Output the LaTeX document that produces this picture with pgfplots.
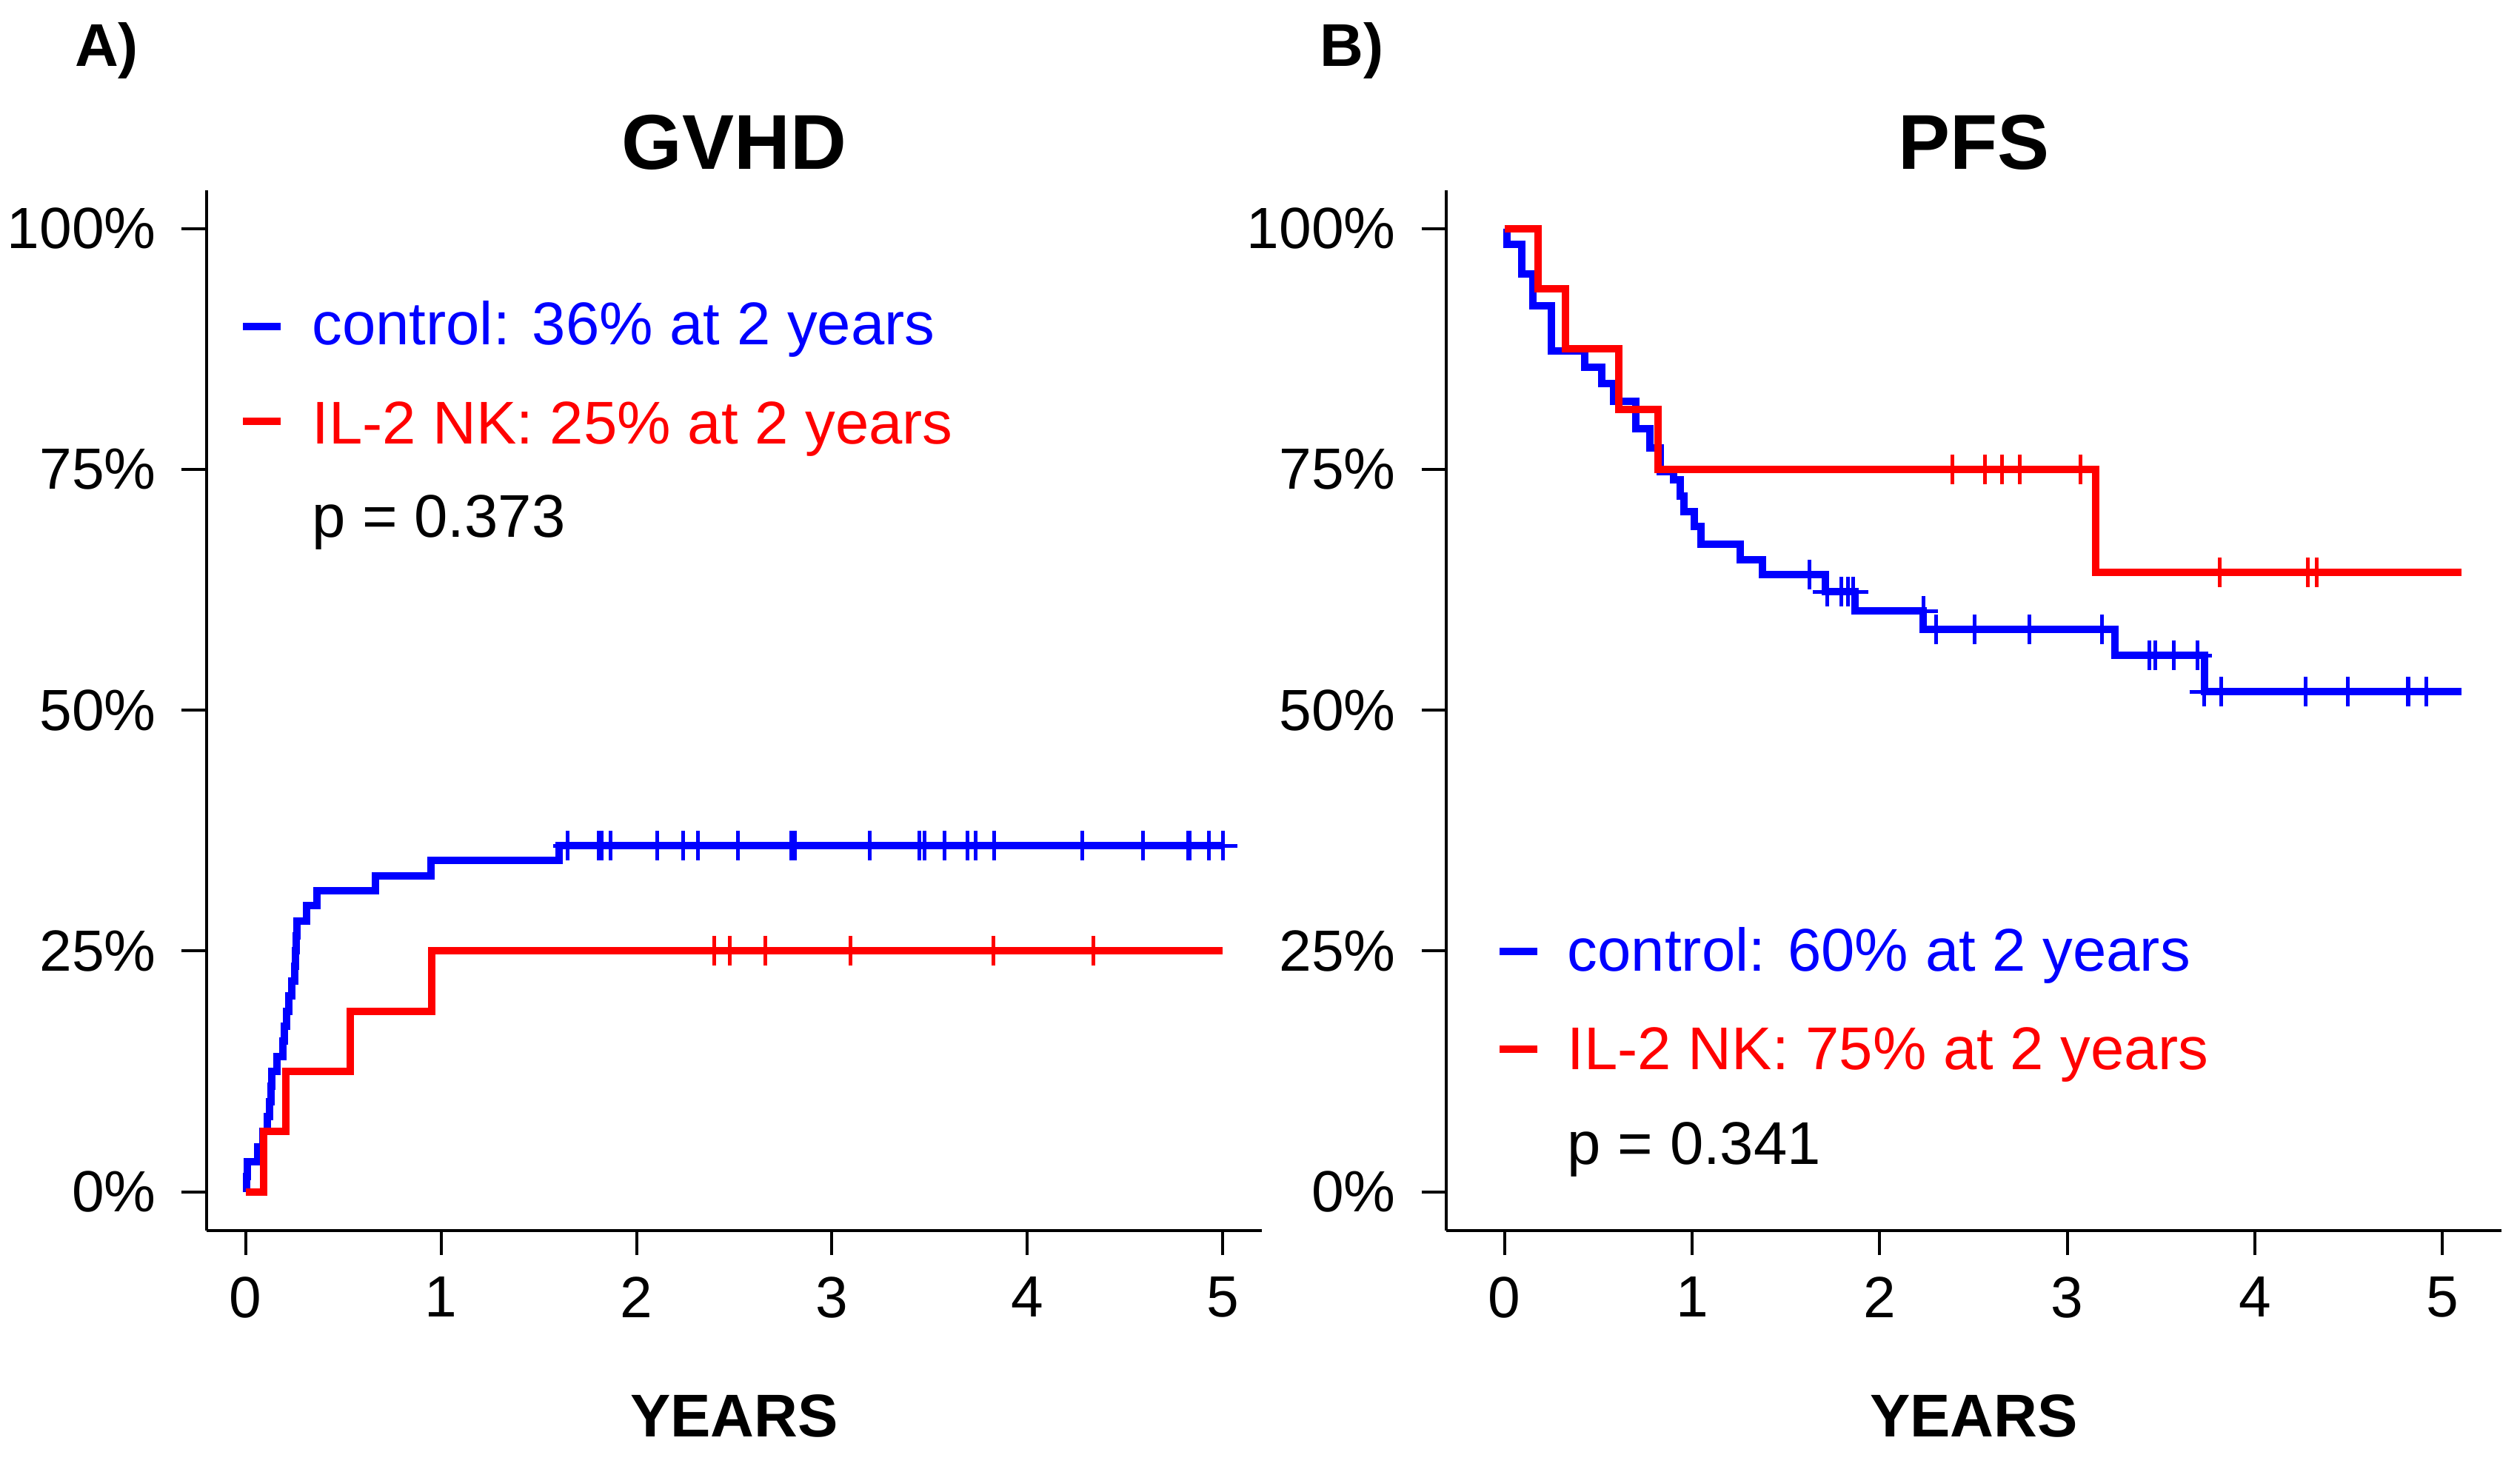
\documentclass[border=0pt]{standalone}
\usepackage{fontspec}
\setmainfont{Liberation Sans}
\usepackage{pgfplots}
\pgfplotsset{compat=1.18}

\newcommand{\txt}{\fontsize{16.3bp}{19bp}\selectfont}
\newcommand{\tck}{\fontsize{15.7bp}{19bp}\selectfont}
\newcommand{\hdr}{\bfseries\fontsize{21bp}{25bp}\selectfont}
\newcommand{\lab}{\bfseries\fontsize{16.3bp}{19bp}\selectfont}

\pgfplotsset{
  km/.style={
    scale only axis, width=285bp, height=281bp,
    ymin=-4, ymax=104,
    axis x line*=bottom, axis y line*=left,
    axis line style={line width=0.8bp},
    every tick/.style={line width=0.8bp, black},
    tick align=outside, major tick length=6.7bp,
    xtick={0,1,2,3,4,5}, ytick={0,25,50,75,100},
    yticklabels={0\%,25\%,50\%,75\%,100\%},
    /pgf/number format/assume math mode=true,
    ticklabel style={font=\tck, inner sep=0pt},
    xticklabel style={anchor=north, yshift=-5.6bp},
    yticklabel style={anchor=east, xshift=-6.8bp},
    title style={at={(0.5,1)}, anchor=base, yshift=-0.4bp, font=\hdr},
    xlabel style={at={(0.5,0)}, anchor=base, yshift=-55.8bp, font=\lab},
    xlabel={YEARS},
  },
  curve/.style={const plot, line width=2bp, mark=none},
  cens/.style={only marks, mark=+, mark size=4bp, mark options={line width=1bp}},
}

\begin{document}
\begin{tikzpicture}
\path[use as bounding box] (0,0) rectangle (680.6bp,396.8bp);

\node[anchor=base west, font=\lab, inner sep=0pt] at (20bp,378.8bp) {A)};
\node[anchor=base west, font=\lab, inner sep=0pt] at (356.3bp,378.8bp) {B)};

% A) GVHD, cumulative incidence
\begin{axis}[km, at={(55.8bp,64.46bp)}, anchor=south west,
    xmin=-0.2, xmax=5.2, title={GVHD}]
  \addplot[curve, blue] coordinates {
    (0,0) (0.003,1.56) (0.007,3.13) (0.06,4.69) (0.087,6.25) (0.11,7.81)
    (0.123,9.38) (0.13,10.94) (0.134,12.5) (0.16,14.06) (0.19,15.63)
    (0.196,17.19) (0.21,18.75) (0.22,20.31) (0.235,21.88) (0.25,23.44)
    (0.255,25.0) (0.258,26.56) (0.262,28.13) (0.31,29.69) (0.365,31.25)
    (0.665,32.81) (0.95,34.38) (1.605,35.94) (5.0,35.94)
  };
  \addplot[cens, blue] coordinates {
    (1.649,35.94) (1.805,35.94) (1.823,35.94) (1.866,35.94) (2.106,35.94)
    (2.240,35.94) (2.313,35.94) (2.520,35.94) (2.792,35.94) (2.810,35.94)
    (3.192,35.94) (3.446,35.94) (3.475,35.94) (3.577,35.94) (3.693,35.94)
    (3.736,35.94) (3.831,35.94) (4.281,35.94) (4.590,35.94) (4.822,35.94)
    (4.830,35.94) (4.928,35.94) (5.0,35.94)
  };
  \addplot[curve, red] coordinates {
    (0,0) (0.091,6.25) (0.207,12.5) (0.534,18.75) (0.951,25) (5.0,25)
  };
  \addplot[cens, red] coordinates {
    (2.397,25) (2.476,25) (2.658,25) (3.094,25) (3.827,25) (4.339,25)
  };
  \draw[blue, line width=2bp] (axis cs:-0.013,89.8) -- (axis cs:0.179,89.8);
  \draw[red, line width=2bp] (axis cs:-0.013,80.0) -- (axis cs:0.179,80.0);
  \node[anchor=base west, inner sep=0pt, font=\txt, blue] at (axis cs:0.336,87.96) {control: 36\% at 2 years};
  \node[anchor=base west, inner sep=0pt, font=\txt, red] at (axis cs:0.336,77.66) {IL-2 NK: 25\% at 2 years};
  \node[anchor=base west, inner sep=0pt, font=\txt] at (axis cs:0.336,67.96) {p = 0.373};
\end{axis}

% B) PFS, Kaplan-Meier
\begin{axis}[km, at={(390.6bp,64.46bp)}, anchor=south west,
    xmin=-0.311, xmax=5.315, title={PFS}]
  \addplot[curve, blue] coordinates {
    (0,100) (0.013,98.4) (0.09,95.3) (0.152,92.0) (0.251,87.3) (0.426,85.6)
    (0.517,83.9) (0.583,82.1) (0.70,79.2) (0.773,77.2) (0.828,74.8)
    (0.90,73.9) (0.937,72.2) (0.955,70.6) (1.01,69.1) (1.047,67.2)
    (1.255,65.6) (1.375,64.1) (1.711,62.3) (1.868,60.3) (2.233,58.4)
    (3.255,55.7) (3.731,51.9) (5.1,51.9)
  };
  \addplot[cens, blue] coordinates {
    (1.624,64.1) (1.722,62.3) (1.795,62.3) (1.832,62.3) (1.86,62.3)
    (2.233,60.3) (2.30,58.4) (2.507,58.4) (2.80,58.4) (3.183,58.4)
    (3.438,55.7) (3.468,55.7) (3.566,55.7) (3.693,55.7)
    (3.73,51.9) (3.821,51.9) (4.27,51.9) (4.496,51.9) (4.814,51.9)
    (4.82,51.9) (4.916,51.9)
  };
  \addplot[curve, red] coordinates {
    (0,100) (0.18,93.75) (0.325,87.5) (0.607,81.25) (0.82,75) (3.15,64.29) (5.1,64.29)
  };
  \addplot[cens, red] coordinates {
    (2.386,75) (2.56,75) (2.652,75) (2.745,75) (3.072,75)
    (3.812,64.29) (4.283,64.29) (4.33,64.29)
  };
  \draw[blue, line width=2bp] (axis cs:-0.026,24.96) -- (axis cs:0.175,24.96);
  \draw[red, line width=2bp] (axis cs:-0.026,14.81) -- (axis cs:0.175,14.81);
  \node[anchor=base west, inner sep=0pt, font=\txt, blue] at (axis cs:0.332,22.89) {control: 60\% at 2 years};
  \node[anchor=base west, inner sep=0pt, font=\txt, red] at (axis cs:0.332,12.67) {IL-2 NK: 75\% at 2 years};
  \node[anchor=base west, inner sep=0pt, font=\txt] at (axis cs:0.332,2.84) {p = 0.341};
\end{axis}
\end{tikzpicture}
\end{document}
